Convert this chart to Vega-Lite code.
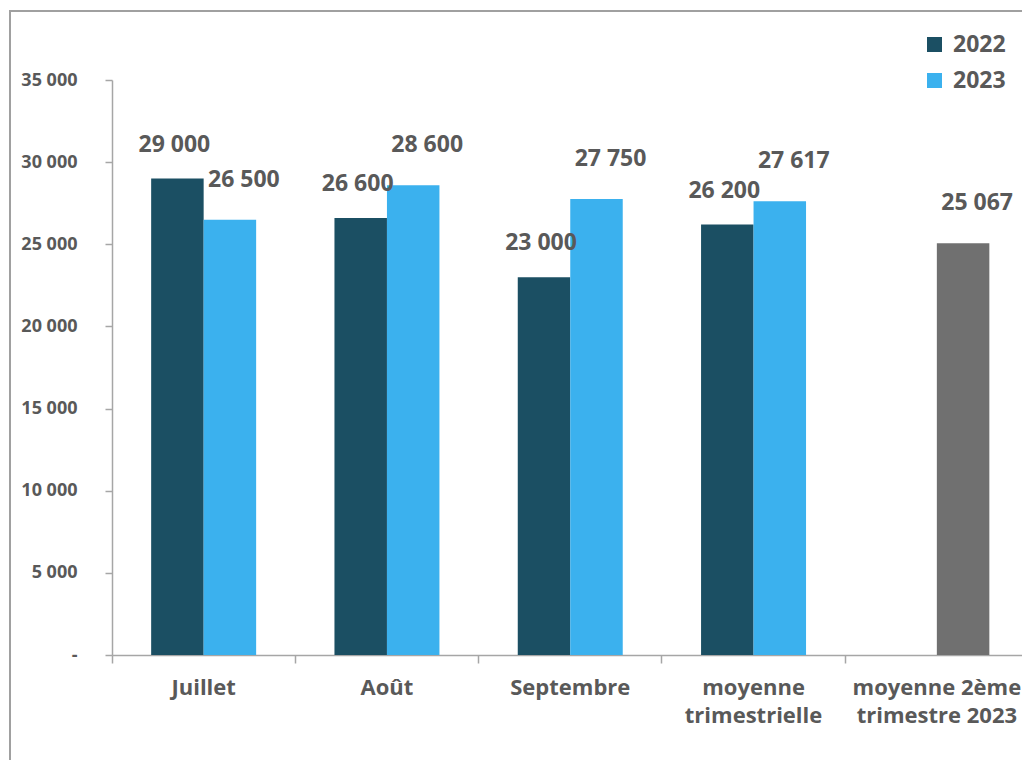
{
  "$schema": "https://vega.github.io/schema/vega-lite/v6.json",
  "autosize": "none",
  "padding": {"left": 10, "top": 11, "right": 0, "bottom": 0},
  "width": 1040,
  "height": 790,
  "background": "white",
  "data": {
    "values": [
      {"cat": "Juillet", "year": "2022", "serie": "2022", "value": 29000},
      {"cat": "Juillet", "year": "2023", "serie": "2023", "value": 26500},
      {"cat": "Août", "year": "2022", "serie": "2022", "value": 26600},
      {"cat": "Août", "year": "2023", "serie": "2023", "value": 28600},
      {"cat": "Septembre", "year": "2022", "serie": "2022", "value": 23000},
      {"cat": "Septembre", "year": "2023", "serie": "2023", "value": 27750},
      {"cat": "moyenne trimestrielle", "year": "2022", "serie": "2022", "value": 26200},
      {"cat": "moyenne trimestrielle", "year": "2023", "serie": "2023", "value": 27617},
      {"cat": "moyenne 2ème trimestre 2023", "year": "2023", "serie": "T2", "value": 25067}
    ]
  },
  "encoding": {
    "x": {
      "field": "cat",
      "type": "nominal",
      "sort": null,
      "title": null,
      "scale": {"range": [102, 1018.5], "paddingInner": 0, "paddingOuter": 0},
      "axis": {
        "orient": "bottom",
        "offset": -146,
        "labelAngle": 0,
        "bandPosition": 0,
        "domainColor": "#A6A6A6",
        "domainWidth": 1.5,
        "tickColor": "#A6A6A6",
        "tickWidth": 1.5,
        "tickSize": 8,
        "labelPadding": 14,
        "labelFont": "Open Sans",
        "labelFontWeight": "bold",
        "labelFontSize": 22,
        "labelColor": "#595959",
        "labelLineHeight": 28,
        "labelExpr": "datum.value == 'moyenne trimestrielle' ? ['moyenne', 'trimestrielle'] : datum.value == 'moyenne 2ème trimestre 2023' ? ['moyenne 2ème', 'trimestre 2023'] : datum.value"
      }
    },
    "xOffset": {
      "field": "year",
      "type": "nominal",
      "scale": {"domain": ["2022", "2023"], "paddingInner": 0, "paddingOuter": 0.746}
    },
    "y": {
      "field": "value",
      "type": "quantitative",
      "title": null,
      "scale": {"domain": [0, 35000], "range": [644, 69], "nice": false},
      "axis": {
        "offset": -102,
        "values": [0, 5000, 10000, 15000, 20000, 25000, 30000, 35000],
        "grid": false,
        "domainColor": "#A6A6A6",
        "domainWidth": 1.5,
        "tickColor": "#A6A6A6",
        "tickWidth": 1.5,
        "tickSize": 7,
        "labelPadding": 28,
        "labelFont": "Open Sans",
        "labelFontWeight": "bold",
        "labelFontSize": 18,
        "labelColor": "#595959",
        "labelExpr": "datum.value == 0 ? '-\u00a0\u00a0' : replace(format(datum.value, ','), ',', '\u00a0')"
      }
    }
  },
  "layer": [
    {
      "mark": {"type": "bar"},
      "encoding": {
        "color": {
          "field": "serie",
          "type": "nominal",
          "scale": {"domain": ["2022", "2023", "T2"], "range": ["#1B4F63", "#3BB1EE", "#707070"]},
          "legend": {
            "values": ["2022", "2023"],
            "title": null,
            "orient": "none",
            "legendX": 913,
            "legendY": 22,
            "symbolType": "square",
            "symbolSize": 225,
            "symbolStrokeWidth": 0,
            "labelFont": "Open Sans",
            "labelFontWeight": "bold",
            "labelFontSize": 23,
            "labelColor": "#595959",
            "labelOffset": 7,
            "rowPadding": 12
          }
        }
      }
    },
    {
      "transform": [{"filter": "datum.year == '2022'"}],
      "mark": {"type": "text", "dy": -34, "dx": -3, "baseline": "middle", "font": "Open Sans", "fontWeight": "bold", "fontSize": 23, "color": "#595959"},
      "encoding": {"text": {"field": "value", "type": "quantitative", "format": ",", "formatType": "number"}}
    },
    {
      "transform": [{"filter": "datum.year == '2023'"}],
      "mark": {"type": "text", "dy": -40, "dx": 14, "baseline": "middle", "font": "Open Sans", "fontWeight": "bold", "fontSize": 23, "color": "#595959"},
      "encoding": {"text": {"field": "value", "type": "quantitative", "format": ",", "formatType": "number"}}
    }
  ],
  "config": {
    "view": {"stroke": "#A0A0A0", "strokeWidth": 2},
    "locale": {"number": {"decimal": ",", "thousands": "\u00a0", "grouping": [3], "currency": ["", " €"]}}
  }
}
